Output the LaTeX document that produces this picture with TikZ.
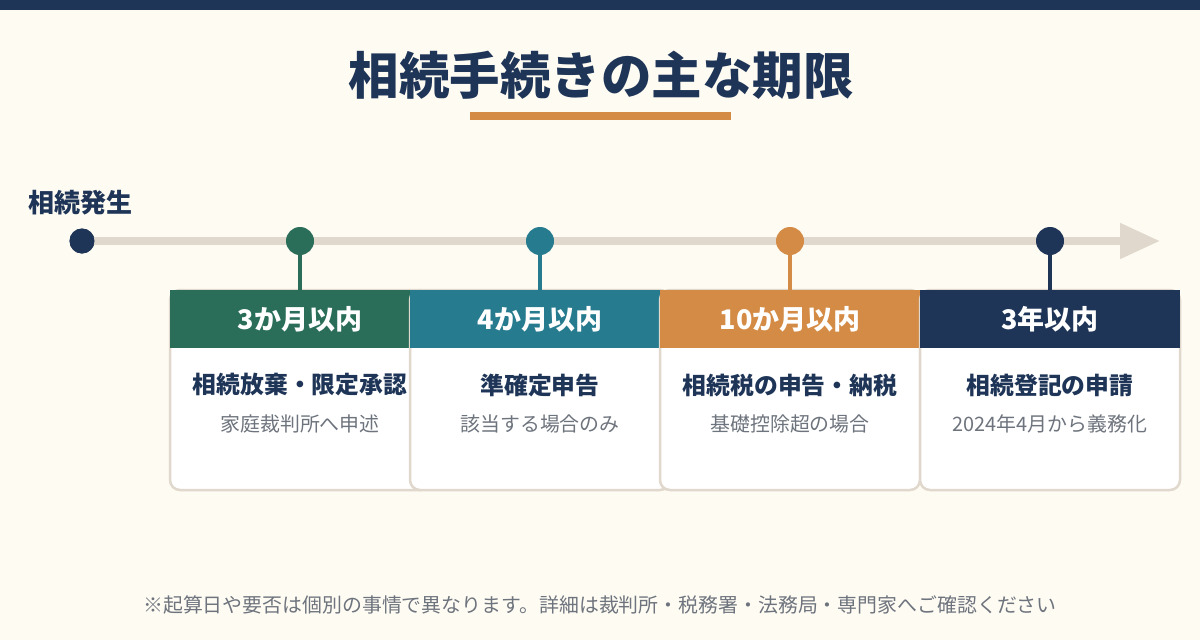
\documentclass[tikz,border=0pt]{standalone}
\usepackage{fontspec}
\setmainfont{Noto Sans CJK JP}
\newfontfamily\jp{Noto Sans CJK JP}
\usetikzlibrary{arrows.meta}
\definecolor{bgc}{RGB}{254,251,243}
\definecolor{navy}{RGB}{30,53,87}
\definecolor{gr}{RGB}{42,110,90}
\definecolor{tl}{RGB}{38,123,143}
\definecolor{org}{RGB}{212,139,69}
\definecolor{beige}{RGB}{224,216,204}
\definecolor{gry}{RGB}{110,116,125}
\tikzset{
  dot/.style={circle,fill=#1,minimum size=28pt,inner sep=0pt},
  stem/.style={line width=3.5pt,draw=#1},
  cardbody/.style={rectangle,rounded corners=10pt,fill=white,draw=beige,line width=2.5pt,minimum width=260pt,minimum height=200pt,inner sep=0pt},
  head/.style={rectangle,fill=#1,minimum width=260pt,minimum height=58pt,inner sep=0pt,text=white,font=\jp\bfseries\fontsize{27}{30}\selectfont},
  ctitle/.style={text=navy,font=\jp\bfseries\fontsize{23.8}{28}\selectfont,inner sep=0pt},
  csub/.style={text=gry,font=\jp\fontsize{19.9}{24}\selectfont,inner sep=0pt},
}
\begin{document}
\begin{tikzpicture}[x=1pt,y=-1pt]
\fill[bgc] (0,0) rectangle (1200,640);
\useasboundingbox (0,0) rectangle (1200,640);
\fill[navy] (0,0) rectangle (1200,10);
\node[text=navy,font=\jp\bfseries\fontsize{50.5}{56}\selectfont,inner sep=0pt] (title) at (601,75) {相続手続きの主な期限};
\fill[org] (470,112) rectangle (731,120);
\node[text=navy,font=\jp\bfseries\fontsize{26}{30}\selectfont,inner sep=0pt,anchor=west] (start) at (28,203) {相続発生};
% timeline
\coordinate (tip) at (1160,241);
\node[dot=navy,minimum size=25pt] (d0) at (82,241) {};
\draw[beige,line width=8pt,-{Triangle[length=40pt,width=34pt]}] (d0.center) -- (tip);
\node[dot=navy,minimum size=25pt] at (82,241) {};
\node[dot=gr] (d1) at (300,241) {};
\node[dot=tl] (d2) at (540,241) {};
\node[dot=org] (d3) at (790,241) {};
\node[dot=navy] (d4) at (1050,241) {};
% cards
\node[cardbody] (c1) at (300,390) {};
\node[head=gr] (h1) at (300,319) {3か月以内};
\node[cardbody] (c2) at (540,390) {};
\node[head=tl] (h2) at (540,319) {4か月以内};
\node[cardbody] (c3) at (790,390) {};
\node[head=org] (h3) at (790,319) {10か月以内};
\node[cardbody] (c4) at (1050,390) {};
\node[head=navy] (h4) at (1050,319) {3年以内};
\draw[stem=gr] (d1) -- (h1.north);
\draw[stem=tl] (d2) -- (h2.north);
\draw[stem=org] (d3) -- (h3.north);
\draw[stem=navy] (d4) -- (h4.north);
\node[ctitle] (t1) at (300,385) {相続放棄・限定承認};
\node[csub] (s1) at (300,424) {家庭裁判所へ申述};
\node[ctitle] (t2) at (540,385) {準確定申告};
\node[csub] (s2) at (540,424) {該当する場合のみ};
\node[ctitle] (t3) at (790,385) {相続税の申告・納税};
\node[csub] (s3) at (790,424) {基礎控除超の場合};
\node[ctitle] (t4) at (1050,385) {相続登記の申請};
\node[csub] (s4) at (1050,424) {2024年4月から義務化};
\node[text=gry,font=\jp\fontsize{19.9}{24}\selectfont,inner sep=0pt] (foot) at (600,605) {※起算日や要否は個別の事情で異なります。詳細は裁判所・税務署・法務局・専門家へご確認ください};
\end{tikzpicture}
\end{document}
